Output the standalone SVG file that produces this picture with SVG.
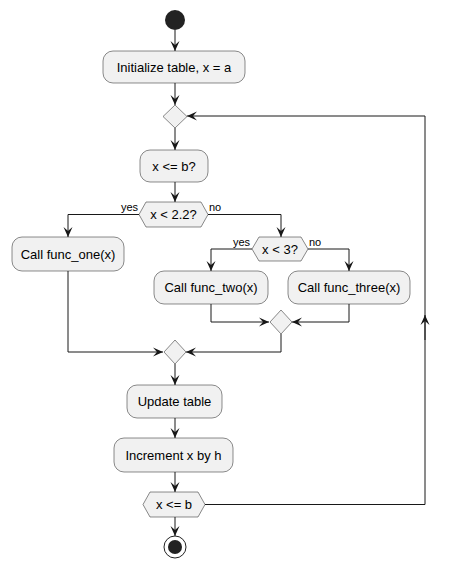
<svg xmlns="http://www.w3.org/2000/svg" width="449" height="568" viewBox="0 0 449 568">
<defs>
<style>
.box{fill:#F1F1F1;stroke:#181818;stroke-width:0.5}
.t{font-family:"Liberation Sans",Arial,sans-serif;font-size:13px;fill:#000;text-anchor:middle}
.lbl{font-family:"Liberation Sans",Arial,sans-serif;font-size:11px;fill:#000}
.ln{fill:none;stroke:#181818;stroke-width:1}
</style>
<marker id="ah" viewBox="0 0 10 10" refX="10" refY="5" markerWidth="10" markerHeight="10" markerUnits="userSpaceOnUse" orient="auto">
<path d="M0,0.5 L10,5 L0,9.5 L4,5 Z" fill="#181818"/>
</marker>
</defs>
<rect width="449" height="568" fill="#fff"/>
<g id="connectors">
<path class="ln" d="M175,30 V51" marker-end="url(#ah)"/>
<path class="ln" d="M175,83 V105" marker-end="url(#ah)"/>
<path class="ln" d="M175,128 V150" marker-end="url(#ah)"/>
<path class="ln" d="M175,182 V202" marker-end="url(#ah)"/>
<path class="ln" d="M139,214.5 H68 V237" marker-end="url(#ah)"/>
<path class="ln" d="M208,214.5 H281 V237" marker-end="url(#ah)"/>
<path class="ln" d="M252,249 H211 V271" marker-end="url(#ah)"/>
<path class="ln" d="M308,249 H349 V271" marker-end="url(#ah)"/>
<path class="ln" d="M211,304 V322 H269" marker-end="url(#ah)"/>
<path class="ln" d="M349,304 V322 H292" marker-end="url(#ah)"/>
<path class="ln" d="M68,271 V352 H163" marker-end="url(#ah)"/>
<path class="ln" d="M281,334 V352 H186" marker-end="url(#ah)"/>
<path class="ln" d="M175,364 V385" marker-end="url(#ah)"/>
<path class="ln" d="M175,418 V438" marker-end="url(#ah)"/>
<path class="ln" d="M175,472 V492" marker-end="url(#ah)"/>
<path class="ln" d="M175,517 V536" marker-end="url(#ah)"/>
<path class="ln" d="M205,504.5 H425 V116 H187" marker-end="url(#ah)"/>
<path class="ln" d="M425,340 V315" marker-end="url(#ah)"/>
<text class="lbl" x="121" y="211">yes</text>
<text class="lbl" x="209" y="211">no</text>
<text class="lbl" x="233" y="246">yes</text>
<text class="lbl" x="309" y="246">no</text>
</g>
<g id="start"><circle cx="175" cy="20" r="10" fill="#222"/></g>
<g id="init"><rect class="box" x="103" y="51" width="142" height="32" rx="10"/><text class="t" x="174" y="71.5">Initialize table, x = a</text></g>
<g id="loopmerge"><polygon class="box" points="175,105 187,116.5 175,128 163,116.5"/></g>
<g id="cond"><rect class="box" x="140" y="150" width="68" height="32" rx="10"/><text class="t" x="174" y="170.5">x &lt;= b?</text></g>
<g id="dec1"><polygon class="box" points="139,214.5 146,202 201,202 208,214.5 201,227 146,227"/><text class="t" x="173.5" y="219">x &lt; 2.2?</text></g>
<g id="func_one"><rect class="box" x="12" y="237" width="112" height="34" rx="10"/><text class="t" x="68" y="258.5">Call func_one(x)</text></g>
<g id="dec2"><polygon class="box" points="252,249 259,237 301,237 308,249 301,261 259,261"/><text class="t" x="280" y="253.5">x &lt; 3?</text></g>
<g id="func_two"><rect class="box" x="154" y="271" width="114" height="33" rx="10"/><text class="t" x="211" y="292">Call func_two(x)</text></g>
<g id="func_three"><rect class="box" x="288" y="271" width="122" height="33" rx="10"/><text class="t" x="349" y="292">Call func_three(x)</text></g>
<g id="merge2"><polygon class="box" points="281,310 292,322 281,334 270,322"/></g>
<g id="merge1"><polygon class="box" points="175,340 186,352 175,364 164,352"/></g>
<g id="update"><rect class="box" x="127" y="385" width="95" height="33" rx="10"/><text class="t" x="174.5" y="406">Update table</text></g>
<g id="increment"><rect class="box" x="114" y="438" width="119" height="34" rx="10"/><text class="t" x="173.5" y="459.5">Increment x by h</text></g>
<g id="dec3"><polygon class="box" points="143,504.5 150,492 198,492 205,504.5 198,517 150,517"/><text class="t" x="174" y="509">x &lt;= b</text></g>
<g id="end"><circle cx="175" cy="547" r="11" fill="none" stroke="#222" stroke-width="1"/><circle cx="175" cy="547" r="7" fill="#222"/></g>
</svg>
